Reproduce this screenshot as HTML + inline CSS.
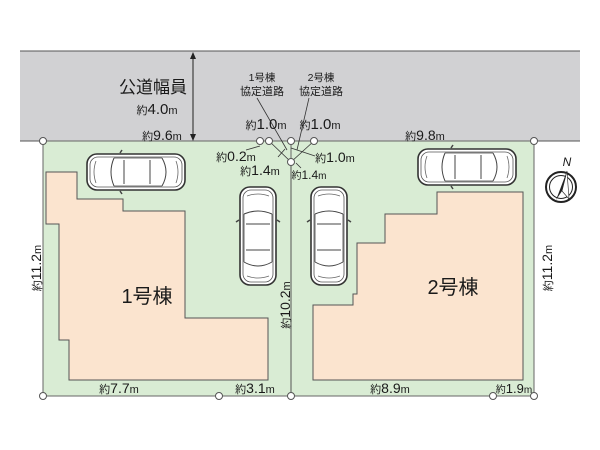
<!DOCTYPE html>
<html><head><meta charset="utf-8"><style>
html,body{margin:0;padding:0;background:#fff;width:600px;height:450px;overflow:hidden}
text{font-family:"Liberation Sans","Noto Sans CJK JP",sans-serif;fill:#1a1a1a}
</style></head><body>
<svg width="600" height="450" viewBox="0 0 600 450" xmlns="http://www.w3.org/2000/svg">
<defs>
<g id="car">
<rect x="1" y="1" width="98" height="36" rx="10" fill="#fff" stroke="#333" stroke-width="1.6"/>
<rect x="4" y="4" width="92" height="30" rx="8" fill="none" stroke="#555" stroke-width="0.8"/>
<path d="M28 5 Q22 19 28 33 M38 7 L38 31 M64 7 L64 31 M76 5 Q84 19 76 33" fill="none" stroke="#444" stroke-width="1"/>
<path d="M10 8 Q6 19 10 30 M90 8 Q94 19 90 30" fill="none" stroke="#666" stroke-width="0.8"/>
<path d="M28 5 L76 5 M28 33 L76 33" stroke="#444" stroke-width="0.8"/>
<path d="M34 0 l2 -3 M34 38 l2 3" stroke="#444" stroke-width="1.5"/>
</g>
</defs>
<rect x="20" y="51" width="560" height="90" fill="#d1d1d3"/>
<line x1="20" y1="51" x2="580" y2="51" stroke="#555" stroke-width="1"/>
<line x1="20" y1="141" x2="580" y2="141" stroke="#555" stroke-width="1"/>
<rect x="43" y="141" width="248" height="255" fill="#d9ecd4" stroke="#666" stroke-width="1"/>
<rect x="291" y="141" width="243" height="255" fill="#d9ecd4" stroke="#666" stroke-width="1"/>
<line x1="291" y1="162" x2="291" y2="396" stroke="#555" stroke-width="1"/>
<polygon points="46,172 77,172 77,199 123,199 123,211 185,211 185,318 268,318 268,380 69,380 69,340 59,340 59,224 46,224" fill="#fbe4cf" stroke="#555" stroke-width="1"/>
<polygon points="437,192 523,192 523,380 313,380 313,305 353,305 353,294 357,294 357,243 385,243 385,214 437,214" fill="#fbe4cf" stroke="#555" stroke-width="1"/>
<use href="#car" transform="translate(86,153)"/>
<use href="#car" transform="translate(417,148)"/>
<use href="#car" transform="translate(277,186) rotate(90)"/>
<use href="#car" transform="translate(348,186) rotate(90)"/>
<line x1="193" y1="54" x2="193" y2="138" stroke="#222" stroke-width="1"/>
<polygon points="193,52 190,59 196,59" fill="#222"/>
<polygon points="193,141 190,134 196,134" fill="#222"/>
<text x="153" y="93" font-size="17" text-anchor="middle">公道幅員</text>
<text x="157" y="114" font-size="15" text-anchor="middle"><tspan font-size="11">約</tspan>4.0<tspan font-size="11">m</tspan></text>
<text x="162" y="140" font-size="14" text-anchor="middle"><tspan font-size="11">約</tspan>9.6<tspan font-size="11">m</tspan></text>
<text x="425" y="140" font-size="14" text-anchor="middle"><tspan font-size="11">約</tspan>9.8<tspan font-size="11">m</tspan></text>
<text x="262" y="81" font-size="10.5" text-anchor="middle">1号棟</text>
<text x="262" y="95" font-size="11" text-anchor="middle">協定道路</text>
<text x="321" y="81" font-size="10.5" text-anchor="middle">2号棟</text>
<text x="321" y="95" font-size="11" text-anchor="middle">協定道路</text>
<g stroke="#333" stroke-width="0.8" fill="none">
<line x1="257" y1="98" x2="287" y2="150"/>
<line x1="309" y1="98" x2="297" y2="150"/>
<line x1="269" y1="141" x2="291" y2="162"/>
<line x1="314" y1="141" x2="291" y2="162"/>
<line x1="246" y1="150" x2="260" y2="146"/>
<line x1="278" y1="157" x2="285" y2="149"/>
<line x1="291" y1="148" x2="315" y2="156"/>
<line x1="296" y1="163" x2="301" y2="168"/>
</g>
<text x="266" y="129" font-size="15" text-anchor="middle"><tspan font-size="11">約</tspan>1.0<tspan font-size="11">m</tspan></text>
<text x="320" y="129" font-size="15" text-anchor="middle"><tspan font-size="11">約</tspan>1.0<tspan font-size="11">m</tspan></text>
<text x="236" y="161" font-size="14" text-anchor="middle"><tspan font-size="11">約</tspan>0.2<tspan font-size="11">m</tspan></text>
<text x="335" y="162" font-size="14" text-anchor="middle"><tspan font-size="11">約</tspan>1.0<tspan font-size="11">m</tspan></text>
<text x="260" y="175" font-size="14" text-anchor="middle"><tspan font-size="11">約</tspan>1.4<tspan font-size="11">m</tspan></text>
<text x="309" y="179" font-size="12" text-anchor="middle"><tspan font-size="10">約</tspan>1.4<tspan font-size="10">m</tspan></text>
<text x="119" y="393" font-size="14" text-anchor="middle"><tspan font-size="11">約</tspan>7.7<tspan font-size="11">m</tspan></text>
<text x="255" y="393" font-size="14" text-anchor="middle"><tspan font-size="11">約</tspan>3.1<tspan font-size="11">m</tspan></text>
<text x="390" y="393" font-size="14" text-anchor="middle"><tspan font-size="11">約</tspan>8.9<tspan font-size="11">m</tspan></text>
<text x="514" y="393" font-size="13" text-anchor="middle"><tspan font-size="10">約</tspan>1.9<tspan font-size="10">m</tspan></text>
<text transform="translate(41,268) rotate(-90)" font-size="14" text-anchor="middle"><tspan font-size="11">約</tspan>11.2<tspan font-size="11">m</tspan></text>
<text transform="translate(290,305) rotate(-90)" font-size="14" text-anchor="middle"><tspan font-size="11">約</tspan>10.2<tspan font-size="11">m</tspan></text>
<text transform="translate(552,268) rotate(-90)" font-size="14" text-anchor="middle"><tspan font-size="11">約</tspan>11.2<tspan font-size="11">m</tspan></text>
<text x="147" y="303" font-size="20" text-anchor="middle">1号棟</text>
<text x="453" y="294" font-size="20" text-anchor="middle">2号棟</text>
<g transform="translate(561,187)">
<circle r="15" fill="#fff" stroke="#222" stroke-width="2"/>
<circle r="11.5" fill="none" stroke="#222" stroke-width="1"/>
<polygon points="6,-16 -5,13 1,4" fill="#222"/>
<polygon points="6,-16 8,12 1,4" fill="#fff" stroke="#222" stroke-width="0.6"/>
<text x="6" y="-21" font-size="12" font-family="Liberation Serif" font-style="italic" text-anchor="middle">N</text>
</g>
<g fill="#fff" stroke="#555" stroke-width="1">
<circle cx="43" cy="141" r="3.5"/><circle cx="260" cy="141" r="3.5"/><circle cx="269" cy="141" r="3.5"/>
<circle cx="291" cy="141" r="3.5"/><circle cx="314" cy="141" r="3.5"/><circle cx="291" cy="162" r="3.5"/>
<circle cx="534" cy="141" r="3.5"/><circle cx="43" cy="396" r="3.5"/><circle cx="219" cy="396" r="3.5"/>
<circle cx="291" cy="396" r="3.5"/><circle cx="493" cy="396" r="3.5"/><circle cx="534" cy="396" r="3.5"/>
</g>
</svg>
</body></html>
